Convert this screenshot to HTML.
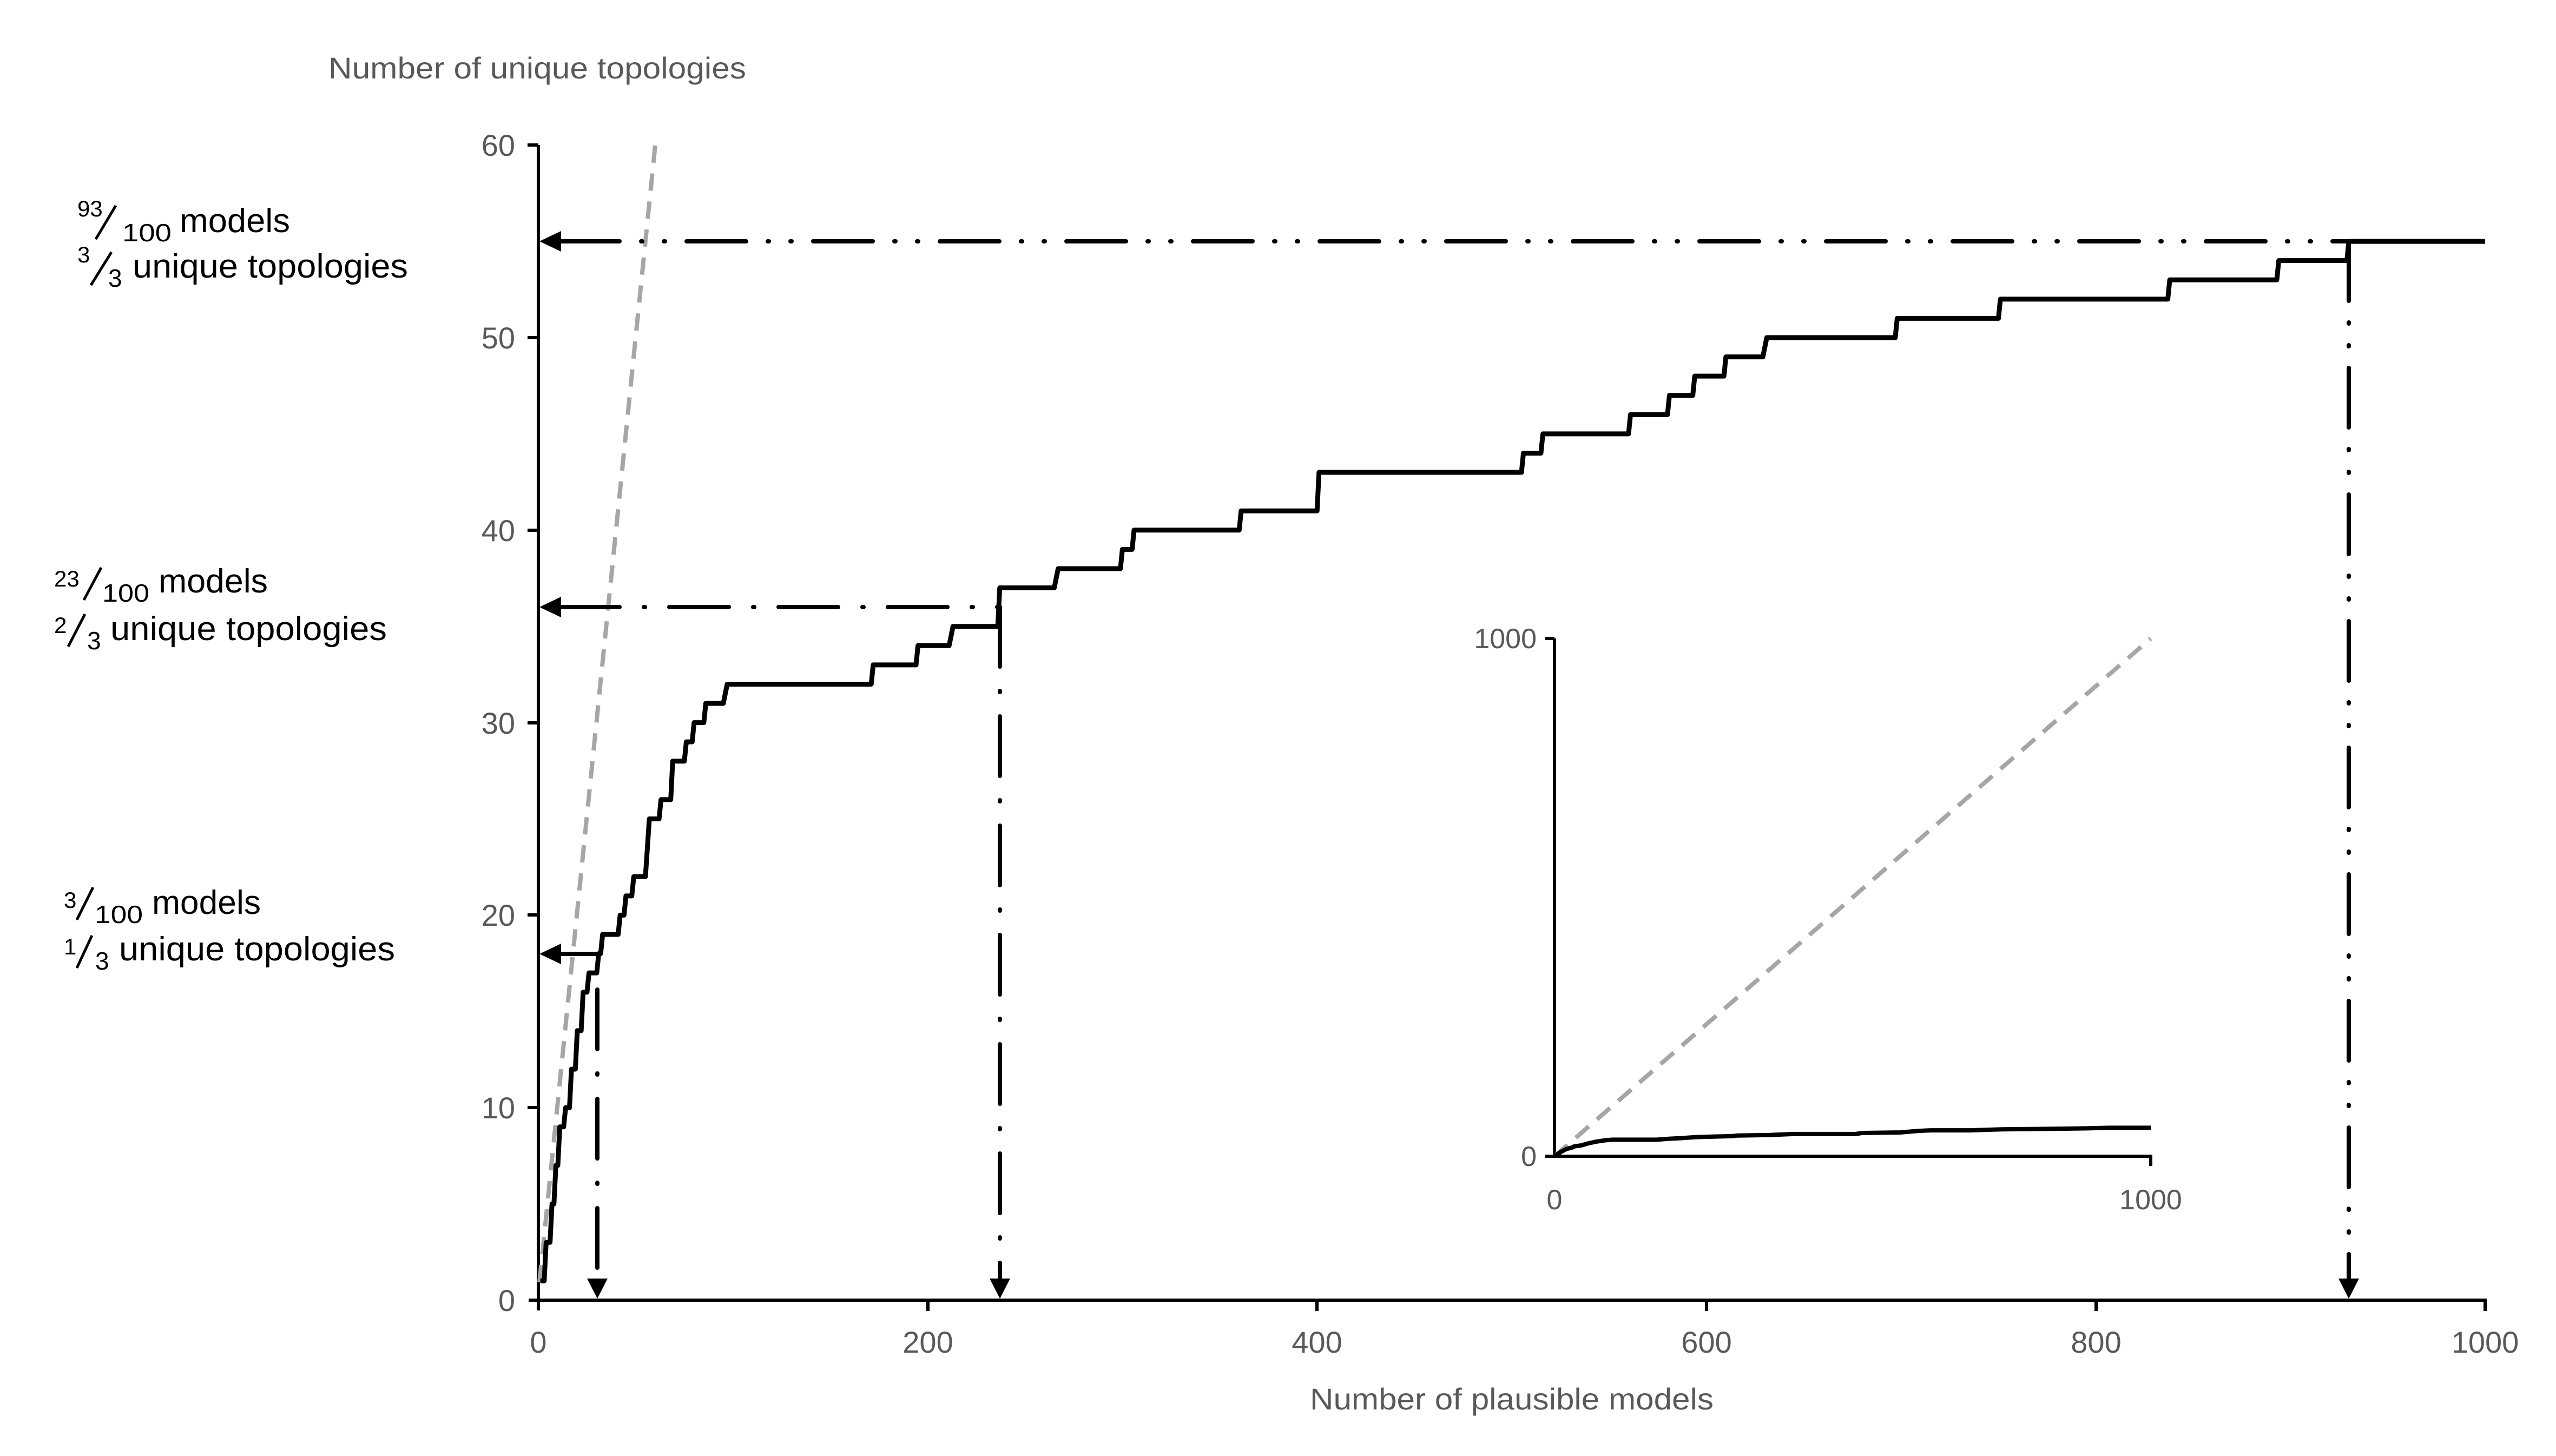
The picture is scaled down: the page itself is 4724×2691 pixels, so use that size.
<!DOCTYPE html>
<html><head><meta charset="utf-8"><style>
html,body{margin:0;padding:0;background:#fff;}
svg{display:block;}
text{font-family:"Liberation Sans",sans-serif;}
</style></head><body>
<svg width="4724" height="2691" viewBox="0 0 4724 2691" xmlns="http://www.w3.org/2000/svg">
<rect width="4724" height="2691" fill="#fff"/>

<text x="607" y="145" font-size="56" fill="#595959" textLength="772" lengthAdjust="spacingAndGlyphs">Number of unique topologies</text>
<text x="2794" y="2605" font-size="56" fill="#595959" text-anchor="middle" textLength="746" lengthAdjust="spacingAndGlyphs">Number of plausible models</text>

<g fill="#000">
<text x="143" y="400" font-size="42">93</text>
<text x="226" y="446" font-size="46" textLength="91" lengthAdjust="spacingAndGlyphs">100</text>
<text x="332" y="429" font-size="62" textLength="204" lengthAdjust="spacingAndGlyphs">models</text>
<text x="143" y="485" font-size="42">3</text>
<text x="200" y="530" font-size="46">3</text>
<text x="245" y="513" font-size="62" textLength="509" lengthAdjust="spacingAndGlyphs">unique topologies</text>

<text x="100" y="1084" font-size="42">23</text>
<text x="189" y="1112" font-size="46" textLength="87" lengthAdjust="spacingAndGlyphs">100</text>
<text x="293" y="1095" font-size="62" textLength="202" lengthAdjust="spacingAndGlyphs">models</text>
<text x="100" y="1170" font-size="42">2</text>
<text x="161" y="1200" font-size="46">3</text>
<text x="204" y="1183" font-size="62" textLength="511" lengthAdjust="spacingAndGlyphs">unique topologies</text>

<text x="118" y="1678" font-size="42">3</text>
<text x="175" y="1706" font-size="46" textLength="89" lengthAdjust="spacingAndGlyphs">100</text>
<text x="281" y="1689" font-size="62" textLength="201" lengthAdjust="spacingAndGlyphs">models</text>
<text x="118" y="1764" font-size="42">1</text>
<text x="176" y="1792" font-size="46">3</text>
<text x="220" y="1775" font-size="62" textLength="510" lengthAdjust="spacingAndGlyphs">unique topologies</text>
</g>
<g stroke="#000" stroke-width="5">
<line x1="177" y1="442" x2="214" y2="380"/>
<line x1="168" y1="527" x2="206" y2="466"/>
<line x1="155" y1="1109" x2="187" y2="1049"/>
<line x1="126" y1="1195" x2="157" y2="1135"/>
<line x1="142" y1="1700" x2="172" y2="1640"/>
<line x1="142" y1="1789" x2="170" y2="1729"/>
</g>

<g font-size="56" fill="#595959" text-anchor="end">
<text x="952" y="2423">0</text>
<text x="952" y="2067">10</text>
<text x="952" y="1711">20</text>
<text x="952" y="1356">30</text>
<text x="952" y="1000">40</text>
<text x="952" y="644">50</text>
<text x="952" y="288">60</text>
</g>
<g font-size="56" fill="#595959" text-anchor="middle">
<text x="995" y="2500">0</text>
<text x="1715" y="2500">200</text>
<text x="2434" y="2500">400</text>
<text x="3154" y="2500">600</text>
<text x="3874" y="2500">800</text>
<text x="4593" y="2500">1000</text>
</g>

<g stroke="#000" stroke-width="6" fill="none">
<line x1="995" y1="268" x2="995" y2="2422"/>
<line x1="977" y1="2403" x2="4593" y2="2403"/>
<line x1="975" y1="268" x2="995" y2="268"/>
<line x1="975" y1="624" x2="995" y2="624"/>
<line x1="975" y1="980" x2="995" y2="980"/>
<line x1="975" y1="1336" x2="995" y2="1336"/>
<line x1="975" y1="1691" x2="995" y2="1691"/>
<line x1="975" y1="2047" x2="995" y2="2047"/>
<line x1="1715" y1="2403" x2="1715" y2="2423"/>
<line x1="2434" y1="2403" x2="2434" y2="2423"/>
<line x1="3154" y1="2403" x2="3154" y2="2423"/>
<line x1="3874" y1="2403" x2="3874" y2="2423"/>
<line x1="4593" y1="2400" x2="4593" y2="2423"/>
</g>

<line x1="997" y1="2370" x2="1211" y2="268" stroke="#A6A6A6" stroke-width="8" stroke-dasharray="32,20"/>

<path transform="translate(995,2403) scale(3.598,-35.58)" vector-effect="non-scaling-stroke" fill="none" stroke="#000" stroke-width="9" stroke-linejoin="round"
d="M1,1 3,1 4,3 6,3 7,5 8,5 9,7 10,7 11,9 13,9 14,10 16,10 17,12 19,12 20,14 22,14 23,16 25,16 26,17 30,17 31,18 32,18 33,19 41,19 42,20 44,20 45,21 48,21 49,22 55,22 57,25 62,25 63,26 68,26 69,28 75,28 76,29 79,29 80,30 85,30 86,31 95,31 97,32 171,32 172,33 194,33 195,34 211,34 213,35 236,35 237,37 265,37 267,38 299,38 300,39 305,39 306,40 360,40 361,41 400,41 401,43 505,43 506,44 515,44 516,45 560,45 561,46 580,46 581,47 593,47 594,48 609,48 610,49 629,49 631,50 697,50 698,51 750,51 751,52 837,52 838,53 893,53 894,54 929,54 930,55 1000,55"/>

<g stroke="#000" stroke-width="8" fill="none" stroke-linecap="round">
<line x1="1035" y1="446" x2="4341" y2="446" stroke-dasharray="110,40,2,40,2,40"/>
<line x1="4341" y1="446" x2="4341" y2="2362" stroke-dasharray="110,40,2,40,2,40"/>
<line x1="1035" y1="1122" x2="1848" y2="1122" stroke-dasharray="110,45,2,45"/>
<line x1="1848" y1="1122" x2="1848" y2="2362" stroke-dasharray="110,45,2,45"/>
<line x1="1035" y1="1763" x2="1105" y2="1763"/>
<line x1="1104" y1="1829" x2="1104" y2="2362" stroke-dasharray="110,45,2,45"/>
</g>
<g fill="#000">
<polygon points="997,446 1037,427 1037,465"/>
<polygon points="997,1122 1037,1103 1037,1141"/>
<polygon points="997,1763 1037,1744 1037,1782"/>
<polygon points="1104,2400 1085,2363 1123,2363"/>
<polygon points="1848,2400 1829,2363 1867,2363"/>
<polygon points="4341,2400 4322,2363 4360,2363"/>
</g>

<g stroke="#000" stroke-width="6" fill="none">
<line x1="2873" y1="1180" x2="2873" y2="2137"/>
<line x1="2873" y1="2137" x2="3975" y2="2137"/>
<line x1="2856" y1="1180" x2="2873" y2="1180"/>
<line x1="2856" y1="2137" x2="2873" y2="2137"/>
<line x1="3975" y1="2134" x2="3975" y2="2155"/>
</g>
<line x1="2873" y1="2137" x2="3975" y2="1180" stroke="#A6A6A6" stroke-width="8" stroke-dasharray="32,20"/>
<path transform="translate(2873,2137) scale(1.102,-0.957)" vector-effect="non-scaling-stroke" fill="none" stroke="#000" stroke-width="8"
d="M0,0 10,8 20,14 30,17 33,19 45,21 57,25 69,28 86,31 97,32 171,32 195,34 213,35 237,37 300,39 306,40 361,41 401,43 505,43 516,45 580,46 610,49 631,50 697,50 751,52 838,53 894,54 930,55 1000,55"/>
<g font-size="52" fill="#595959">
<text x="2840" y="1198" text-anchor="end">1000</text>
<text x="2840" y="2155" text-anchor="end">0</text>
<text x="2873" y="2235" text-anchor="middle">0</text>
<text x="3975" y="2235" text-anchor="middle">1000</text>
</g>
</svg>
</body></html>
